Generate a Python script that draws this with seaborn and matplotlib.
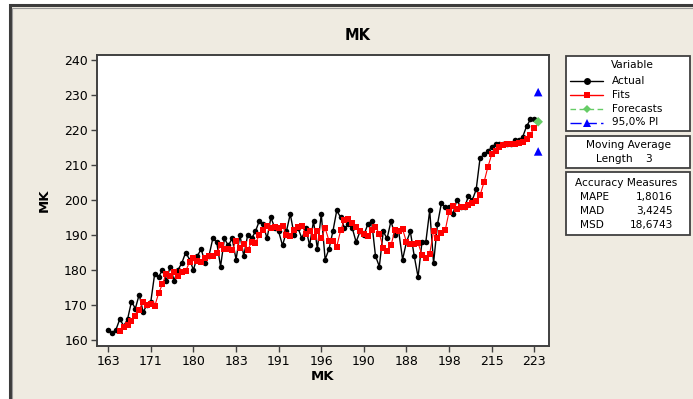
import matplotlib
matplotlib.use("Agg")
import numpy as np
import pandas as pd
import matplotlib.pyplot as plt
import seaborn as sns
from matplotlib.patches import Rectangle
from matplotlib.lines import Line2D

# Monthly MK series
actual = [
    163, 162, 163, 166, 164, 166, 171, 169, 173, 168, 170, 171,
    179, 178, 180, 177, 181, 177, 180, 182, 185, 183,
    180, 184, 186, 182, 184, 189, 188, 181, 189, 187, 189, 183,
    190, 184, 190, 189, 191, 194, 193, 189, 195, 192, 191,
    187, 191, 196, 190, 192, 189, 192, 187, 194, 186, 196,
    183, 186, 191, 197, 195, 192, 193, 192, 188, 191, 190,
    193, 194, 184, 181, 191, 189, 194, 190, 191, 183, 188,
    191, 184, 178, 188, 188, 197, 182, 193, 199, 198, 198,
    196, 200, 198, 198, 201, 200, 203, 212, 213, 214, 215,
    216, 216, 216, 216, 216, 217, 217, 218, 221, 223, 223,
]
ma_length = 3
forecast_value = 222.33
pi_lower = 213.86
pi_upper = 230.80

x_tick_index = [1, 12, 23, 34, 45, 56, 67, 78, 89, 100, 111]
x_tick_labels = ["163", "171", "180", "183", "191", "196",
                 "190", "188", "198", "215", "223"]
y_ticks = [160, 170, 180, 190, 200, 210, 220, 230, 240]

legend_labels = ["Actual", "Fits", "Forecasts", "95,0% PI"]
acc_names = ["MAPE", "MAD", "MSD"]
acc_values = ["1,8016", "3,4245", "18,6743"]

# ---- data frames -------------------------------------------------------
t = np.arange(1, len(actual) + 1)
df = pd.DataFrame({"t": t, "MK": actual})
# moving-average fit of length 3 (lagged one step)
df["fit"] = df["MK"].rolling(ma_length).mean().shift(1)
fits = df.dropna(subset=["fit"])
t_next = len(actual) + 1
fc = pd.DataFrame({"t": [t_next], "value": [forecast_value]})
pi = pd.DataFrame({"t": [t_next, t_next], "value": [pi_lower, pi_upper]})

# ---- figure --------------------------------------------------------------
W, H = 693, 399
sns.set_theme(style="white")
plt.rcParams["font.family"] = ["DejaVu Sans"]
plt.rcParams["text.color"] = "black"
plt.rcParams["xtick.color"] = "black"
plt.rcParams["ytick.color"] = "black"

fig = plt.figure(figsize=(W / 100, H / 100), dpi=100, facecolor="white")


def fx(x):
    return x / W


def fy(y):
    return 1 - y / H


def prect(x0, y0, x1, y1, **kw):
    return Rectangle((fx(x0), fy(y1)), fx(x1) - fx(x0), fy(y0) - fy(y1),
                     transform=fig.transFigure, **kw)


panel_bg = "#EFEBE1"
frame_col = "#3C3C3C"
fig.patches.append(prect(9.5, 5, 720, 420, facecolor=panel_bg,
                         edgecolor=frame_col, linewidth=2.2, zorder=-5))
fig.patches.append(prect(12.5, 8, 720, 420, facecolor="none",
                         edgecolor="#9A9A9A", linewidth=0.8, zorder=-4))

ax = fig.add_axes([fx(97), fy(346), fx(549) - fx(97), fy(55) - fy(346)])
ax.set_zorder(1)
ax.set_facecolor("white")

black_kw = dict(color="black", linewidth=1.0, marker="o", markersize=4.0,
                markeredgewidth=0)
red_kw = dict(color="#FF0000", linewidth=0.8, marker="s", markersize=4.0,
              markeredgewidth=0)

sns.lineplot(data=df, x="t", y="MK", ax=ax, zorder=3, **black_kw)
sns.lineplot(data=fits, x="t", y="fit", ax=ax, zorder=4, **red_kw)
sns.scatterplot(data=pi, x="t", y="value", ax=ax, marker="^", s=38,
                color="#0000FF", edgecolor="none", zorder=5)
sns.scatterplot(data=fc, x="t", y="value", ax=ax, marker="D", s=24,
                color="#66CC66", edgecolor="none", zorder=5)

ax.set_xlim(-1.9, 114.8)
ax.set_ylim(158.3, 241.4)
ax.set_xticks(x_tick_index)
ax.set_xticklabels(x_tick_labels)
ax.set_yticks(y_ticks)
ax.set_xlabel("")
ax.set_ylabel("")
for s in ax.spines.values():
    s.set_color("#404040")
    s.set_linewidth(1.4)
ax.tick_params(axis="both", which="both", direction="out", length=4.5,
               width=1.0, color="#404040", labelsize=9, pad=2,
               bottom=True, left=True, labelcolor="black")

fig.text(fx(358), fy(35), "MK", ha="center", va="center",
         fontsize=10.5, fontweight="bold")
fig.text(fx(323), fy(376), "MK", ha="center", va="center",
         fontsize=9.5, fontweight="bold")
fig.text(fx(44), fy(200), "MK", ha="center", va="center", rotation=90,
         fontsize=9.5, fontweight="bold")

# ---- side boxes ------------------------------------------------------
box_kw = dict(facecolor="white", edgecolor="#404040", linewidth=1.3,
              zorder=2)
fig.patches.append(prect(566, 56, 690, 131, **box_kw))
fig.patches.append(prect(566, 136, 690, 168, **box_kw))
fig.patches.append(prect(566, 172, 690, 235, **box_kw))

fs = 7.6
fig.text(fx(632), fy(65), "Variable", ha="center", va="center", fontsize=fs)

rows_y = [80.5, 94.5, 109, 122.5]
styles = [
    dict(color="black", ls="-", marker="o", ms=5.0),
    dict(color="#FF0000", ls="-", marker="s", ms=5.0),
    dict(color="#66CC66", ls=(0, (4, 2.5)), marker="D", ms=4.4),
    dict(color="#0000FF", ls=(0, (8, 3)), marker="^", ms=5.4),
]
for lab, yy, st in zip(legend_labels, rows_y, styles):
    fig.add_artist(Line2D([fx(570), fx(603)], [fy(yy), fy(yy)],
                          transform=fig.transFigure, color=st["color"],
                          linestyle=st["ls"], linewidth=1.0, zorder=3))
    fig.add_artist(Line2D([fx(587)], [fy(yy)], transform=fig.transFigure,
                          color=st["color"], marker=st["marker"],
                          markersize=st["ms"], markeredgewidth=0,
                          linestyle="none", zorder=4))
    fig.text(fx(612), fy(yy), lab, ha="left", va="center", fontsize=fs)

fig.text(fx(628), fy(145.5), "Moving Average", ha="center", va="center",
         fontsize=fs)
fig.text(fx(596), fy(159), "Length", ha="left", va="center", fontsize=fs)
fig.text(fx(652), fy(159), str(ma_length), ha="right", va="center",
         fontsize=fs)

fig.text(fx(626), fy(183), "Accuracy Measures", ha="center", va="center",
         fontsize=fs)
for i, (nm, val) in enumerate(zip(acc_names, acc_values)):
    yy = 197 + i * 14
    fig.text(fx(580), fy(yy), nm, ha="left", va="center", fontsize=fs)
    fig.text(fx(673), fy(yy), val, ha="right", va="center", fontsize=fs)

fig.savefig("out.png", dpi=100, facecolor=fig.get_facecolor())
